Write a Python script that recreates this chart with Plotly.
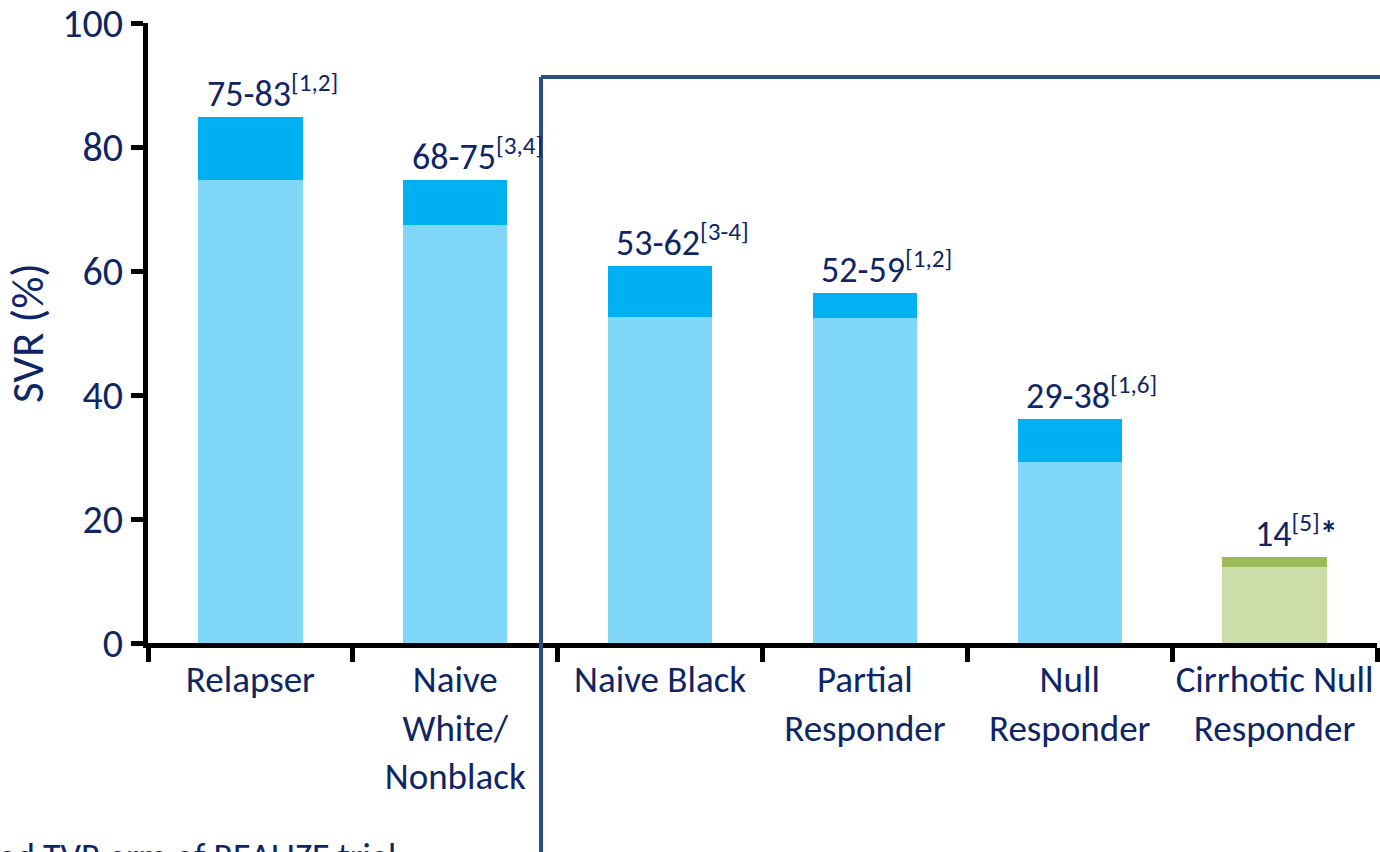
import plotly.graph_objects as go

categories = ["Relapser", "Naive<br>White/<br>Nonblack", "Naive Black",
              "Partial<br>Responder", "Null<br>Responder", "Cirrhotic Null<br>Responder"]
svr_low = [74.7, 67.4, 52.6, 52.4, 29.2, 12.2]
svr_high = [84.9, 74.6, 60.8, 56.4, 36.2, 13.8]
range_labels = ["75-83", "68-75", "53-62", "52-59", "29-38", "14"]
ref_labels = ["[1,2]", "[3,4]", "[3-4]", "[1,2]", "[1,6]", "[5]"]
suffix_labels = ["", "", "", "", "", "<b>*</b>"]
light_colors = ["#80D7F7"] * 5 + ["#CDDDAA"]
dark_colors = ["#00B0F0"] * 5 + ["#9BBB59"]
y_ticks = [0, 20, 40, 60, 80, 100]

FONT = "Carlito, Lato, sans-serif"
TXT = "#0E2566"

fig = go.Figure()
fig.add_trace(go.Bar(x=categories, y=svr_low, marker=dict(color=light_colors, line=dict(width=0)),
                     width=0.51, hoverinfo="skip"))
fig.add_trace(go.Bar(x=categories, y=[h - l for h, l in zip(svr_high, svr_low)],
                     marker=dict(color=dark_colors, line=dict(width=0)),
                     width=0.51, hoverinfo="skip"))

for c, h, r, ref, suf in zip(categories, svr_high, range_labels, ref_labels, suffix_labels):
    fig.add_annotation(x=c, y=h, xref="x", yref="y", yanchor="bottom", xanchor="center",
                       text=f"{r}<sup>{ref}</sup>{suf}", showarrow=False, xshift=22, yshift=-1,
                       font=dict(family=FONT, size=36, color=TXT))

# footnote (cut off at bottom)
fig.add_annotation(x=-0.19, y=-0.306, xref="paper", yref="paper", xanchor="left", yanchor="top",
                   text="*Pooled TVR arm of REALIZE trial", showarrow=False,
                   font=dict(family=FONT, size=36, color=TXT))

# box frame
box_color = "#2A4E80"
fig.add_shape(type="line", xref="paper", yref="paper", x0=0.3198, x1=0.3198, y0=0.9129, y1=-0.4,
              line=dict(color=box_color, width=4))
fig.add_shape(type="line", xref="paper", yref="paper", x0=0.3198, x1=1.05, y0=0.9129, y1=0.9129,
              line=dict(color=box_color, width=4))

fig.update_layout(
    barmode="stack",
    showlegend=False,
    width=1380, height=852,
    margin=dict(l=148, r=3, t=23, b=209, autoexpand=False),
    plot_bgcolor="white", paper_bgcolor="white",
    font=dict(family=FONT, color=TXT),
)
fig.update_yaxes(range=[0, 100], tickvals=y_ticks, showgrid=False, zeroline=False, automargin=False,
                 showline=True, linecolor="black", linewidth=5, ticklabeloverflow="allow",
                 ticks="outside", ticklen=12, tickwidth=5, tickcolor="black",
                 tickfont=dict(family=FONT, size=40, color=TXT),
                 title=dict(text="SVR (%)", font=dict(family=FONT, size=45, color=TXT), standoff=27))
fig.update_xaxes(showgrid=False, showline=True, linecolor="black", linewidth=5, automargin=False,
                 ticks="outside", tickson="boundaries", ticklen=14, tickwidth=5, tickcolor="black",
                 ticklabeloverflow="allow",
                 tickfont=dict(family=FONT, size=37, color=TXT), tickangle=0)

fig.write_html("out.html", config={"displayModeBar": False},
               post_script="document.body.style.margin='0';document.body.style.overflow='hidden';")
